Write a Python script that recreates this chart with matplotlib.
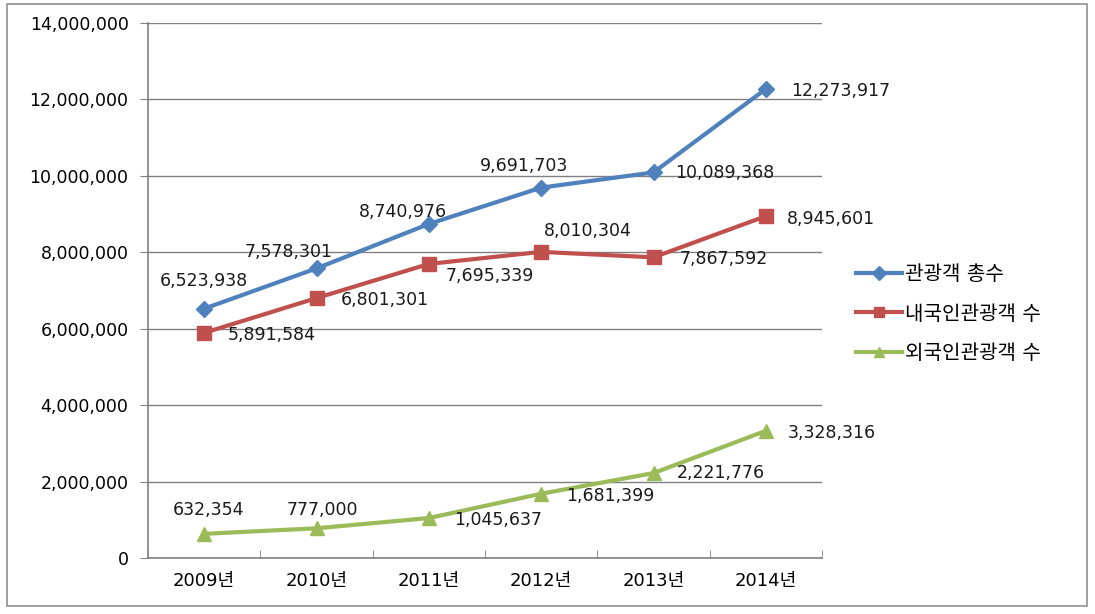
import matplotlib.pyplot as plt
from matplotlib.ticker import FuncFormatter

plt.rcParams['font.family'] = ['DejaVu Sans', 'Noto Sans CJK KR']

years = ["2009년", "2010년", "2011년", "2012년", "2013년", "2014년"]
total = [6523938, 7578301, 8740976, 9691703, 10089368, 12273917]
domestic = [5891584, 6801301, 7695339, 8010304, 7867592, 8945601]
foreign = [632354, 777000, 1045637, 1681399, 2221776, 3328316]
series_names = ["관광객 총수", "내국인관광객 수", "외국인관광객 수"]

# label offsets in pixels (dx, dy, ha) for each series
total_pos = [(0, 28, "center"), (-28, 16, "center"), (-26, 12, "center"),
             (-17, 22, "center"), (22, -1, "left"), (25, -2, "left")]
domestic_pos = [(24, -2, "left"), (24, -2, "left"), (17, -12, "left"),
                (3, 21, "left"), (26, -2, "left"), (21, -3, "left")]
foreign_pos = [(4, 24, "center"), (6, 18, "center"), (25, -2, "left"),
               (25, -2, "left"), (23, 0, "left"), (22, -2, "left")]

fig = plt.figure(figsize=(10.95, 6.14), dpi=100)
ax = fig.add_axes([148 / 1095, 56 / 614, 674 / 1095, 535 / 614])

x = range(len(years))
styles = [
    (total, "#4F81BD", "D", 8, total_pos),
    (domestic, "#C0504D", "s", 10, domestic_pos),
    (foreign, "#9BBB59", "^", 10, foreign_pos),
]
for (vals, color, marker, ms, pos), name in zip(styles, series_names):
    ax.plot(x, vals, color=color, lw=3, marker=marker, ms=ms, label=name, zorder=3)
    for i, v in enumerate(vals):
        dx, dy, ha = pos[i]
        ax.annotate(f"{v:,}", (i, v), xytext=(dx, dy), textcoords="offset pixels",
                    ha=ha, va="center", fontsize=12.5, color="#1a1a1a", zorder=4)

ax.set_xlim(-0.5, len(years) - 0.5)
ax.set_ylim(0, 14000000)
ax.set_yticks(range(0, 14000001, 2000000))
ax.yaxis.set_major_formatter(FuncFormatter(lambda v, p: f"{int(v):,}"))
ax.set_xticks(x)
ax.set_xticklabels(years, fontsize=13)
ax.set_xticks([i - 0.5 for i in range(len(years) + 1)], minor=True)
ax.tick_params(axis="x", which="major", length=0, pad=10)
ax.tick_params(axis="x", which="minor", length=6, color="#808080", direction="in")
ax.tick_params(axis="y", length=6, color="#808080", labelsize=12.5, pad=8)
ax.grid(axis="y", color="#808080", lw=1)
ax.set_axisbelow(True)
for side in ["top", "right"]:
    ax.spines[side].set_visible(False)
for side in ["left", "bottom"]:
    ax.spines[side].set_color("#808080")
    ax.spines[side].set_linewidth(1.2)

leg = ax.legend(loc="upper left", bbox_to_anchor=(1.038, 0.562), frameon=False,
                fontsize=14.5, handlelength=2.3, handletextpad=0.15,
                labelspacing=1.0, borderaxespad=0)
for h in leg.legend_handles:
    h.set_markersize(7)

fig.patches.append(plt.Rectangle((7 / 1095, 8 / 614), 1080 / 1095, 602 / 614,
                                 transform=fig.transFigure, fill=False,
                                 edgecolor="#909090", lw=1.2))

fig.savefig("out.png", dpi=100)
